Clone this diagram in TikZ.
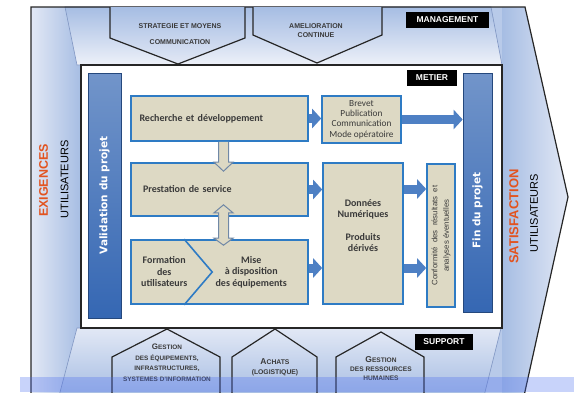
\documentclass[tikz,border=0pt]{standalone}
\usepackage{fontspec}
\setmainfont{Liberation Sans}
\newfontfamily\carlito{Carlito}
\newfontfamily\dejavu{DejaVu Sans}
\usepackage{tikz}
\usetikzlibrary{arrows.meta,calc}
\definecolor{tanfill}{HTML}{DDD9C4}
\definecolor{boxblue}{HTML}{2E7BC4}
\definecolor{arrowblue}{HTML}{4E80C4}
\definecolor{barblue}{HTML}{3567B3}
\definecolor{bandblue}{HTML}{A6BDE3}
\definecolor{bandlight}{HTML}{E2E8F5}
\definecolor{bandline}{HTML}{7F95C2}
\definecolor{exired}{HTML}{E2531F}
\definecolor{textgray}{HTML}{3A3A3A}
\definecolor{hollowgray}{HTML}{7088A6}
\definecolor{stripblue}{HTML}{4A6CF0}

\begin{document}
\begin{tikzpicture}[x=1pt,y=-1pt,
    box/.style={draw=boxblue,fill=tanfill,line width=1.6pt,inner sep=0pt,text=textgray},
    bar/.style={draw=barblue!70!black,line width=0.6pt,top color=barblue!70!white,bottom color=barblue,inner sep=0pt},
    bartext/.style={rotate=90,text=white,font=\dejavu\bfseries\fontsize{10.5}{12}\selectfont},
    fatarrow/.style={draw=arrowblue,line width=9pt,-{Triangle[length=9pt,width=19pt]}},
    hollowarrow/.style={draw=hollowgray,fill=tanfill,line width=1pt},
    tag/.style={fill=black,text=white,inner sep=0pt,minimum height=16pt,font=\bfseries\fontsize{8.5}{10}\selectfont},
    pent/.style={draw=black!85,line width=1.2pt},
    pentext/.style={text=textgray,align=center,inner sep=0pt,font=\bfseries\fontsize{7}{9}\selectfont},
    band/.style={draw=bandline,line width=0.6pt}]
\useasboundingbox (0,0) rectangle (574,392);

% bands
\fill[bandblue!80!white] (31,7) -- (525,7) -- (568,197) -- (524,396) -- (31,396) -- cycle;
\fill[left color=bandlight,right color=bandblue] (31,7) rectangle (81,396);
\fill[left color=bandblue,right color=bandlight] (502,7) -- (525,7) -- (568,197) -- (524,396) -- (502,396) -- cycle;
\path[band,top color=bandblue,bottom color=bandlight!60!white] (65,7) -- (491,7) -- (502,65) -- (77,65) -- cycle;
\path[band,top color=bandlight,bottom color=bandblue] (77,328) -- (501,328) -- (484,396) -- (59,396) -- cycle;
\draw[black!85,line width=1.2pt] (31,396) -- (31,7) -- (525,7) -- (568,197) -- (524,396);
\draw[black!85,line width=1.5pt,fill=white] (81,65) rectangle (502,328);

% pentagons
\path[pent,top color=bandblue,bottom color=bandlight] (110,7) -- (110,38) -- (178,64) -- (245,38) -- (245,7);
\path[pent,top color=bandblue,bottom color=bandlight] (253,7) -- (253,35) -- (317,63) -- (382,35) -- (382,7);
\path[pent,top color=bandlight,bottom color=bandblue] (112,396) -- (112,357) -- (167,329) -- (220,357) -- (220,396);
\path[pent,top color=bandlight,bottom color=bandblue] (232,396) -- (232,357) -- (275,329) -- (317,357) -- (317,396);
\path[pent,top color=bandlight,bottom color=bandblue] (336,396) -- (336,357) -- (381,332) -- (424,357) -- (424,396);
\node[pentext](strat) at (180,26) {STRATEGIE ET MOYENS};
\node[pentext](comm) at (180,42) {COMMUNICATION};
\node[pentext](amel) at (316,30.5) {AMELIORATION\\CONTINUE};
\node[pentext,font=\bfseries\fontsize{6.4}{10.5}\selectfont](gequip) at (167,362.5) {{\fontsize{8}{9}\selectfont G}ESTION\\DES ÉQUIPEMENTS,\\INFRASTRUCTURES,\\SYSTEMES D’INFORMATION};
\node[pentext,font=\bfseries\fontsize{6.8}{10}\selectfont](achats) at (275,367) {{\fontsize{8.5}{9}\selectfont A}CHATS\\(LOGISTIQUE)};
\node[pentext,font=\bfseries\fontsize{6.6}{8.8}\selectfont](grh) at (381,368.5) {{\fontsize{8.5}{9}\selectfont G}ESTION\\DES RESSOURCES\\HUMAINES};

% tags
\node[tag,minimum width=83pt](mgmt) at (447.5,20) {MANAGEMENT};
\node[tag,minimum width=50pt](metier) at (432,77.5) {METIER};
\node[tag,minimum width=58pt](support) at (444,342) {SUPPORT};

% side texts
\node[rotate=90,text=exired,font=\bfseries\fontsize{12.5}{14}\selectfont](exig) at (43.5,180.5) {EXIGENCES};
\node[rotate=90,font=\fontsize{11}{13}\selectfont](util1) at (64.5,179.5) {UTILISATEURS};
\node[rotate=90,text=exired,font=\bfseries\fontsize{13}{15}\selectfont](satis) at (514,216.5) {SATISFACTION};
\node[rotate=90,font=\fontsize{11}{13}\selectfont](util2) at (534,213) {UTILISATEURS};

% bars
\node[bar,minimum width=33pt,minimum height=245pt](val) at (104.5,195.5) {};
\node[bartext](valtext) at (val) {Validation du projet};
\node[bar,minimum width=29pt,minimum height=239pt](fin) at (477.5,192.5) {};
\node[bartext](fintext) at ([yshift=-18pt]fin.center) {Fin du projet};

% boxes
\node[box,minimum width=177pt,minimum height=45pt,text width=160pt,align=left,font=\carlito\bfseries\fontsize{10}{11}\selectfont](rd) at (219.5,118.5) {Recherche et développement};
\node[box,minimum width=177pt,minimum height=53pt,text width=153pt,align=left,font=\carlito\bfseries\fontsize{10}{11}\selectfont](ps) at (219.5,189.5) {Prestation de service};
\node[box,minimum width=177pt,minimum height=64pt](mise) at (219.5,272) {};
\draw[boxblue,line width=1.6pt] ([xshift=54pt]mise.north west) -- ([xshift=82pt]mise.west) -- ([xshift=54pt]mise.south west);
\node[align=center,text=textgray,font=\carlito\bfseries\fontsize{10}{11.5}\selectfont](form) at ([xshift=34pt]mise.west) {Formation\\des\\utilisateurs};
\node[align=center,text=textgray,font=\carlito\bfseries\fontsize{10}{11.5}\selectfont](dispo) at ([xshift=121pt]mise.west) {Mise\\à disposition\\des équipements};
\node[box,minimum width=79pt,minimum height=47pt,align=center,font=\carlito\fontsize{9.3}{10.3}\selectfont](brevet) at (361.5,119.5) {Brevet\\Publication\\Communication\\Mode opératoire};
\node[box,minimum width=80pt,minimum height=141pt](dn) at (363,233.5) {};
\node[align=center,text=textgray,font=\carlito\bfseries\fontsize{10}{11.5}\selectfont](dntext) at ([yshift=8pt]dn.center) {Données\\Numériques\\[11pt]Produits\\dérivés};
\node[box,minimum width=28pt,minimum height=143pt](cf) at (441,235.5) {};
\node[rotate=90,align=center,text=textgray,font=\fontsize{7.8}{11.5}\selectfont](cftext) at (cf) {Conformité \ des \ résultats \ et\\analyses éventuelles};

% arrows
\draw[fatarrow] (rd.east) -- (rd.east -| brevet.west);
\draw[fatarrow] (ps.east) -- (ps.east -| dn.west);
\draw[fatarrow] ([yshift=4pt]mise.east) -- ([yshift=4pt]mise.east -| dn.west);
\draw[fatarrow] (brevet.east) -- (brevet.east -| fin.west);
\draw[fatarrow] ([yshift=44.5pt]dn.east) -- ([yshift=44.5pt]dn.east -| cf.west);
\draw[fatarrow] ([yshift=-34.5pt]dn.east) -- ([yshift=-34.5pt]dn.east -| cf.west);
\coordinate(a1) at ([xshift=4pt]rd.south);
\coordinate(a2) at ([xshift=4pt]ps.north);
\draw[hollowarrow] ([xshift=-5pt]a1) -- ([xshift=-5pt]a2) -- ([xshift=-9.5pt]a2) -- ([yshift=-9pt]a2) -- ([xshift=9.5pt]a2) -- ([xshift=5pt]a2) -- ([xshift=5pt]a1);
\coordinate(b1) at ([xshift=4pt]ps.south);
\coordinate(b2) at ([xshift=4pt]mise.north);
\draw[hollowarrow] ([yshift=12pt]b1) -- ([shift={(9.5pt,4pt)}]b1) -- ([shift={(5pt,4pt)}]b1) -- ([shift={(5pt,1pt)}]b2) -- ([shift={(9.5pt,1pt)}]b2) -- ([yshift=-6pt]b2) -- ([shift={(-9.5pt,1pt)}]b2) -- ([shift={(-5pt,1pt)}]b2) -- ([shift={(-5pt,4pt)}]b1) -- ([shift={(-9.5pt,4pt)}]b1) -- cycle;

% strip
\fill[stripblue,opacity=0.3] (20,377) rectangle (574,392);
\end{tikzpicture}
\end{document}
